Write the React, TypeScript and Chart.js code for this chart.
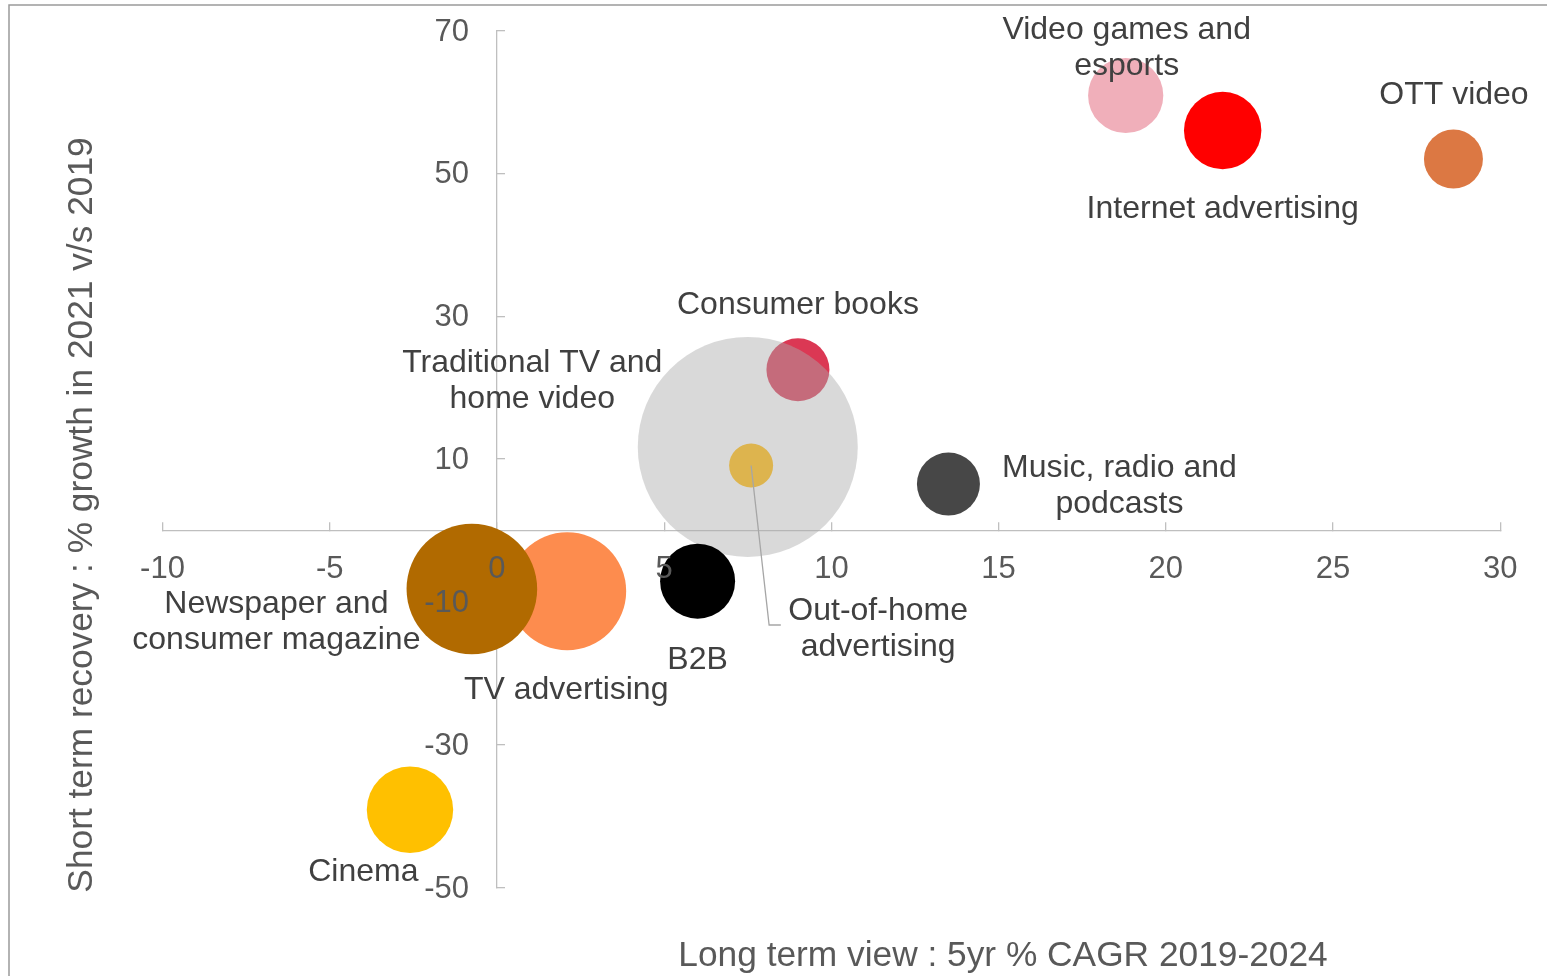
import React, { useEffect, useRef } from 'react';
import { Chart, registerables } from 'chart.js';

Chart.register(...registerables);

// ---- data ----
const categories = [
  'Video games and esports',
  'Internet advertising',
  'OTT video',
  'Consumer books',
  'Traditional TV and home video',
  'Out-of-home advertising',
  'Music, radio and podcasts',
  'B2B',
  'TV advertising',
  'Newspaper and consumer magazine',
  'Cinema',
];
const longTermCagr = [18.8, 21.7, 28.6, 9.0, 7.5, 7.6, 13.5, 6.0, 2.1, -0.75, -2.6];
const shortTermGrowth = [60.9, 56.0, 52.0, 22.5, 11.7, 9.1, 6.5, -7.1, -8.5, -8.2, -39.1];
const bubbleSize = [37.6, 38.7, 29.5, 31.5, 110, 22, 31.5, 37.5, 59, 65.3, 43.2];
const xTickValues = [-10, -5, 0, 5, 10, 15, 20, 25, 30];
const yTickValues = [-50, -30, -10, 10, 30, 50, 70];
const xTitle = 'Long term view : 5yr % CAGR 2019-2024';
const yTitle = 'Short term recovery : % growth in 2021 v/s 2019';
const labelLines = [
  ['Video games and', 'esports'],
  ['Internet advertising'],
  ['OTT video'],
  ['Consumer books'],
  ['Traditional TV and', 'home video'],
  ['Out-of-home', 'advertising'],
  ['Music, radio and', 'podcasts'],
  ['B2B'],
  ['TV advertising'],
  ['Newspaper and', 'consumer magazine'],
  ['Cinema'],
];

// ---- styles ----
const bubbleColors = [
  '#F0AFBA',
  '#FF0000',
  '#DC7843',
  '#DB3854',
  'rgba(170,170,170,0.45)',
  '#DDB44E',
  '#474747',
  '#000000',
  '#FD8C4E',
  '#B16A00',
  '#FFC000',
];
// label offsets from the bubble centre (px): [dx, first baseline dy]
const labelOffsets: [number, number][] = [
  [1, -56.5],
  [0, 87.8],
  [0.5, -55.3],
  [0, -56],
  [-215.5, -74.7],
  [127, 154.5],
  [171, -7.3],
  [0, 87.5],
  [-1, 107.7],
  [-195.5, 24.3],
  [-46.6, 71],
];
const FONT = '"Liberation Sans", Arial, Helvetica, sans-serif';
const AXIS_COLOR = '#BFBFBF';
const TICK_COLOR = '#595959';
const LABEL_COLOR = '#404040';

const annotPlugin = {
  id: 'annot',
  beforeDraw(chart: any) {
    const ctx = chart.ctx;
    ctx.save();
    ctx.strokeStyle = '#9A9A9A';
    ctx.lineWidth = 1.5;
    ctx.strokeRect(9, 5, 1700, 1100);
    ctx.restore();
  },
  afterDatasetsDraw(chart: any) {
    const ctx = chart.ctx;
    const xs = chart.scales.x;
    const ys = chart.scales.y;
    ctx.save();
    // y tick labels
    ctx.font = `31px ${FONT}`;
    ctx.fillStyle = TICK_COLOR;
    ctx.textAlign = 'right';
    ctx.textBaseline = 'middle';
    const ax = xs.getPixelForValue(0);
    yTickValues.forEach((v) => {
      ctx.fillText(String(v), ax - 28, ys.getPixelForValue(v) + 1.5);
    });

    // leader line for Out-of-home advertising
    const meta = chart.getDatasetMeta(0);
    const ooh = meta.data[5];
    ctx.strokeStyle = '#A6A6A6';
    ctx.lineWidth = 1.3;
    ctx.beginPath();
    ctx.moveTo(ooh.x, ooh.y);
    ctx.lineTo(ooh.x + 18, ooh.y + 159.5);
    ctx.lineTo(ooh.x + 29.7, ooh.y + 159.5);
    ctx.stroke();

    // bubble labels
    ctx.font = `32px ${FONT}`;
    ctx.fillStyle = LABEL_COLOR;
    ctx.textAlign = 'center';
    ctx.textBaseline = 'alphabetic';
    meta.data.forEach((pt: any, i: number) => {
      const [dx, dy] = labelOffsets[i];
      labelLines[i].forEach((line, j) => {
        ctx.fillText(line, pt.x + dx, pt.y + dy + j * 36);
      });
    });

    // axis titles
    ctx.font = `35.3px ${FONT}`;
    ctx.fillStyle = TICK_COLOR;
    ctx.textAlign = 'center';
    ctx.fillText(xTitle, 1003, 966);
    ctx.translate(92, 515);
    ctx.rotate(-Math.PI / 2);
    ctx.fillText(yTitle, 0, 0);
    ctx.restore();
  },
};

export default function App() {
  const ref = useRef<HTMLCanvasElement>(null);
  useEffect(() => {
    const chart = new Chart(ref.current as HTMLCanvasElement, {
      type: 'bubble',
      data: {
        datasets: [
          {
            label: 'Segments',
            data: categories.map((c, i) => ({ x: longTermCagr[i], y: shortTermGrowth[i], r: bubbleSize[i] })),
            backgroundColor: bubbleColors,
            borderWidth: 0,
            hoverBorderWidth: 0,
            hoverRadius: 0,
            clip: false,
          } as any,
        ],
      },
      options: {
        responsive: false,
        animation: false,
        events: [],
        layout: { autoPadding: false, padding: { left: 162.5, right: 46.5, top: 30.5, bottom: 88.4 } },
        plugins: { legend: { display: false }, tooltip: { enabled: false } },
        scales: {
          x: {
            type: 'linear',
            position: { y: 0 } as any,
            min: -10,
            max: 30,
            afterBuildTicks: (s: any) => {
              s.ticks = xTickValues.map((v) => ({ value: v }));
            },
            grid: { drawOnChartArea: false, drawTicks: true, tickLength: -9, color: AXIS_COLOR, lineWidth: 1.3 },
            border: { color: AXIS_COLOR, width: 1.3 },
            ticks: {
              z: 1,
              padding: 29.5,
              color: TICK_COLOR,
              font: { family: FONT, size: 31 },
              maxRotation: 0,
              autoSkip: false,
            },
          },
          y: {
            type: 'linear',
            position: { x: 0 } as any,
            min: -50,
            max: 70,
            afterBuildTicks: (s: any) => {
              s.ticks = yTickValues.map((v) => ({ value: v }));
            },
            grid: { drawOnChartArea: false, drawTicks: true, tickLength: -9, color: AXIS_COLOR, lineWidth: 1.3 },
            border: { color: AXIS_COLOR, width: 1.3 },
            ticks: { display: false },
          },
        },
      } as any,
      plugins: [annotPlugin],
    });
    return () => chart.destroy();
  }, []);
  return (
    <div style={{ position: 'absolute', left: 0, top: 0, width: 1547, height: 976, background: '#fff' }}>
      <canvas ref={ref} width={1547} height={976} style={{ display: 'block' }} />
    </div>
  );
}
